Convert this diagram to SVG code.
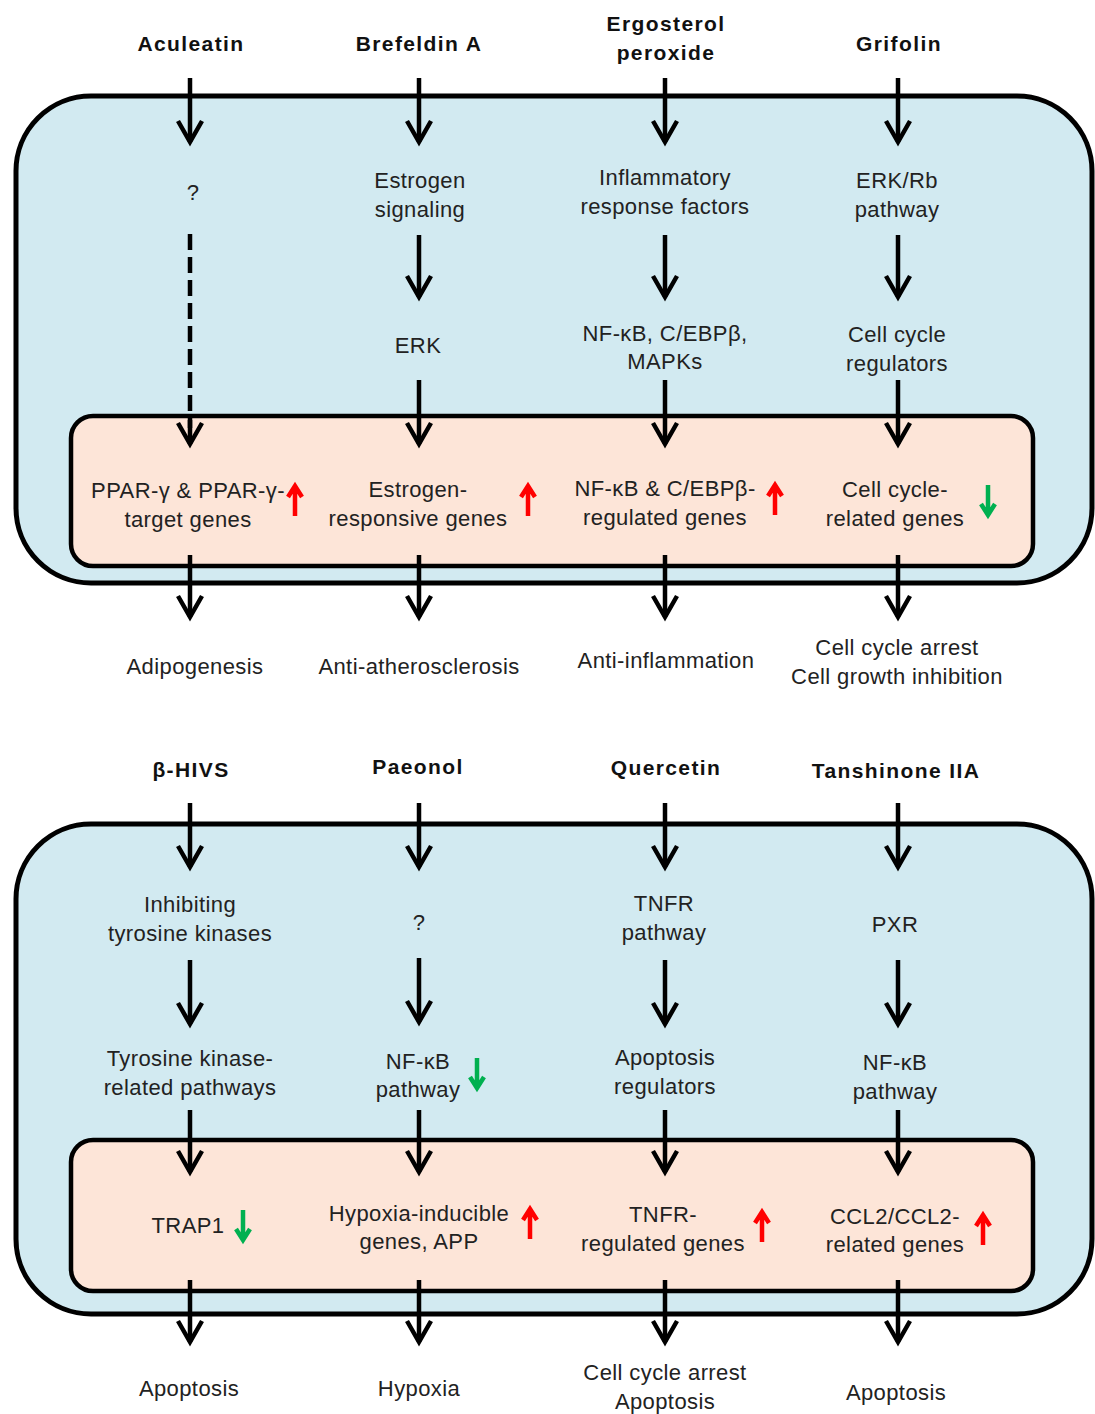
<svg xmlns="http://www.w3.org/2000/svg" width="1095" height="1414" viewBox="0 0 1095 1414">
<style>
.outer{fill:#d2eaf1;stroke:#000;stroke-width:5}
.inner{fill:#fde5d8;stroke:#000;stroke-width:4.5}
.t{font-family:"Liberation Sans",Arial,sans-serif;font-size:22px;fill:#222;text-anchor:middle;letter-spacing:0.4px}
.b{font-family:"Liberation Sans",Arial,sans-serif;font-size:21px;font-weight:bold;fill:#111;text-anchor:middle;letter-spacing:1.4px}
.a{fill:none;stroke:#000;stroke-width:4.5;marker-end:url(#hd)}
.d{fill:none;stroke:#000;stroke-width:4.5;stroke-dasharray:16 7}
.up{fill:none;stroke:#ff0000;stroke-width:4.5;stroke-linejoin:miter}
.dn{fill:none;stroke:#00b050;stroke-width:4.5;stroke-linejoin:miter}
</style>
<defs>
<marker id="hd" markerUnits="userSpaceOnUse" orient="auto" refX="0" refY="0" markerWidth="30" markerHeight="30" viewBox="-25 -15 30 30" overflow="visible">
<path d="M-21,-12 L0,0 L-21,12" fill="none" stroke="#000" stroke-width="4.5" stroke-linejoin="miter"/>
</marker>
</defs>
<g id="cells">
<rect class="outer" x="16" y="96" width="1076" height="487" rx="75"/>
<rect class="inner" x="71" y="416" width="962" height="150" rx="22"/>
<rect class="outer" x="16" y="824" width="1076" height="490" rx="75"/>
<rect class="inner" x="71" y="1140" width="962" height="151" rx="22"/>
</g>
<g id="connectors">
<path class="a" d="M190,78V142"/><path class="a" d="M419,78V142"/><path class="a" d="M665,78V142"/><path class="a" d="M898,78V142"/>
<path class="d" d="M190,234V428"/><path class="a" d="M190,420V444"/>
<path class="a" d="M419,235V297"/><path class="a" d="M665,235V297"/><path class="a" d="M898,235V297"/>
<path class="a" d="M419,380V444"/><path class="a" d="M665,380V444"/><path class="a" d="M898,380V444"/>
<path class="a" d="M190,555V617"/><path class="a" d="M419,555V617"/><path class="a" d="M665,555V617"/><path class="a" d="M898,555V617"/>
<path class="a" d="M190,803V867"/><path class="a" d="M419,803V867"/><path class="a" d="M665,803V867"/><path class="a" d="M898,803V867"/>
<path class="a" d="M190,960V1024"/><path class="a" d="M419,958V1022"/><path class="a" d="M665,960V1024"/><path class="a" d="M898,960V1024"/>
<path class="a" d="M190,1110V1172"/><path class="a" d="M419,1110V1172"/><path class="a" d="M665,1110V1172"/><path class="a" d="M898,1110V1172"/>
<path class="a" d="M190,1280V1342"/><path class="a" d="M419,1280V1342"/><path class="a" d="M665,1280V1342"/><path class="a" d="M898,1280V1342"/>
</g>
<g id="indicators">
<path class="up" d="M295,516V486 M288,497L295,486L302,497"/>
<path class="up" d="M528,516V486 M521,497L528,486L535,497"/>
<path class="up" d="M775,515V485 M768,496L775,485L782,496"/>
<path class="dn" d="M988,485V515 M981,504L988,515L995,504"/>
<path class="dn" d="M477,1058V1088 M470,1077L477,1088L484,1077"/>
<path class="dn" d="M243,1210V1240 M236,1229L243,1240L250,1229"/>
<path class="up" d="M530,1239V1209 M523,1220L530,1209L537,1220"/>
<path class="up" d="M762,1242V1212 M755,1223L762,1212L769,1223"/>
<path class="up" d="M983,1245V1215 M976,1226L983,1215L990,1226"/>
</g>
<g id="n-aculeatin"><text class="b" x="191" y="51">Aculeatin</text></g>
<g id="n-brefeldin"><text class="b" x="419" y="51">Brefeldin A</text></g>
<g id="n-ergosterol"><text class="b" x="666" y="31">Ergosterol</text><text class="b" x="666" y="60">peroxide</text></g>
<g id="n-grifolin"><text class="b" x="899" y="51">Grifolin</text></g>
<g id="n-q1"><text class="t" x="193" y="200">?</text></g>
<g id="n-estrogen"><text class="t" x="420" y="188">Estrogen</text><text class="t" x="420" y="217">signaling</text></g>
<g id="n-inflam"><text class="t" x="665" y="185">Inflammatory</text><text class="t" x="665" y="214">response factors</text></g>
<g id="n-erkrb"><text class="t" x="897" y="188">ERK/Rb</text><text class="t" x="897" y="217">pathway</text></g>
<g id="n-erk"><text class="t" x="418" y="353">ERK</text></g>
<g id="n-nfkb1"><text class="t" x="665" y="341">NF-κB, C/EBPβ,</text><text class="t" x="665" y="369">MAPKs</text></g>
<g id="n-ccreg"><text class="t" x="897" y="342">Cell cycle</text><text class="t" x="897" y="371">regulators</text></g>
<g id="n-ppar"><text class="t" x="188" y="498">PPAR-γ &amp; PPAR-γ-</text><text class="t" x="188" y="527">target genes</text></g>
<g id="n-estresp"><text class="t" x="418" y="497">Estrogen-</text><text class="t" x="418" y="526">responsive genes</text></g>
<g id="n-nfkbreg"><text class="t" x="665" y="496">NF-κB &amp; C/EBPβ-</text><text class="t" x="665" y="525">regulated genes</text></g>
<g id="n-ccrel"><text class="t" x="895" y="497">Cell cycle-</text><text class="t" x="895" y="526">related genes</text></g>
<g id="n-adipo"><text class="t" x="195" y="674">Adipogenesis</text></g>
<g id="n-anti-ath"><text class="t" x="419" y="674">Anti-atherosclerosis</text></g>
<g id="n-anti-inf"><text class="t" x="666" y="668">Anti-inflammation</text></g>
<g id="n-ccarrest1"><text class="t" x="897" y="655">Cell cycle arrest</text><text class="t" x="897" y="684">Cell growth inhibition</text></g>
<g id="n-hivs"><text class="b" x="191" y="777">β-HIVS</text></g>
<g id="n-paeonol"><text class="b" x="418" y="774">Paeonol</text></g>
<g id="n-quercetin"><text class="b" x="666" y="775">Quercetin</text></g>
<g id="n-tanshinone"><text class="b" x="896" y="778">Tanshinone IIA</text></g>
<g id="n-inhib"><text class="t" x="190" y="912">Inhibiting</text><text class="t" x="190" y="941">tyrosine kinases</text></g>
<g id="n-q2"><text class="t" x="419" y="930">?</text></g>
<g id="n-tnfr"><text class="t" x="664" y="911">TNFR</text><text class="t" x="664" y="940">pathway</text></g>
<g id="n-pxr"><text class="t" x="895" y="932">PXR</text></g>
<g id="n-tkrel"><text class="t" x="190" y="1066">Tyrosine kinase-</text><text class="t" x="190" y="1095">related pathways</text></g>
<g id="n-nfkb2"><text class="t" x="418" y="1069">NF-κB</text><text class="t" x="418" y="1097">pathway</text></g>
<g id="n-apreg"><text class="t" x="665" y="1065">Apoptosis</text><text class="t" x="665" y="1094">regulators</text></g>
<g id="n-nfkb3"><text class="t" x="895" y="1070">NF-κB</text><text class="t" x="895" y="1099">pathway</text></g>
<g id="n-trap1"><text class="t" x="188" y="1233">TRAP1</text></g>
<g id="n-hypoxgenes"><text class="t" x="419" y="1221">Hypoxia-inducible</text><text class="t" x="419" y="1249">genes, APP</text></g>
<g id="n-tnfrreg"><text class="t" x="663" y="1222">TNFR-</text><text class="t" x="663" y="1251">regulated genes</text></g>
<g id="n-ccl2"><text class="t" x="895" y="1224">CCL2/CCL2-</text><text class="t" x="895" y="1252">related genes</text></g>
<g id="n-apop1"><text class="t" x="189" y="1396">Apoptosis</text></g>
<g id="n-hypoxia"><text class="t" x="419" y="1396">Hypoxia</text></g>
<g id="n-ccarrest2"><text class="t" x="665" y="1380">Cell cycle arrest</text><text class="t" x="665" y="1409">Apoptosis</text></g>
<g id="n-apop2"><text class="t" x="896" y="1400">Apoptosis</text></g>
</svg>
